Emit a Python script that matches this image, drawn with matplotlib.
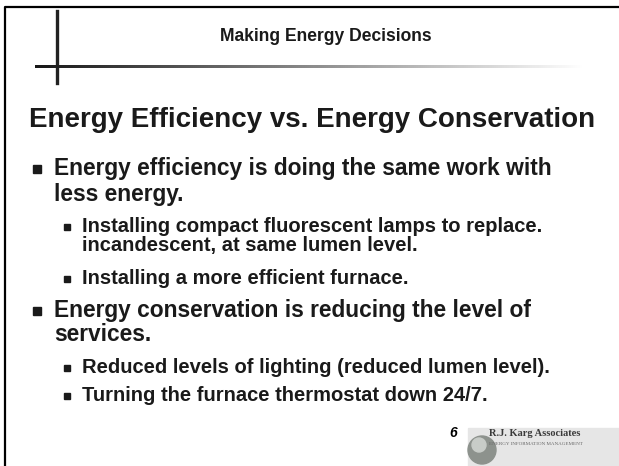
import matplotlib.pyplot as plt
import matplotlib.patches as mpatches
import numpy as np

header = "Making Energy Decisions"
title = "Energy Efficiency vs. Energy Conservation"

# (level, text lines)
bullets = [
    (1, ["Energy efficiency is doing the same work with", "less energy."]),
    (2, ["Installing compact fluorescent lamps to replace.", "incandescent, at same lumen level."]),
    (2, ["Installing a more efficient furnace."]),
    (1, ["Energy conservation is reducing the level of", "services."]),
    (2, ["Reduced levels of lighting (reduced lumen level)."]),
    (2, ["Turning the furnace thermostat down 24/7."]),
]
page_num = "6"
logo_name = "R.J. Karg Associates"
logo_sub = "Energy Information Management"

font = "Liberation Sans"

# layout: baselines of each text line
bullet_base = [[175, 201], [232, 251], [284], [317, 341], [373], [401]]

fig = plt.figure(figsize=(6.19, 4.66), dpi=100)
ax = fig.add_axes([0, 0, 1, 1])
ax.set_xlim(0, 619)
ax.set_ylim(466, 0)
ax.axis("off")
renderer = fig.canvas.get_renderer()


def fit_size(s, width, **kw):
    t = ax.text(0, 0, s, fontsize=10, **kw)
    w = t.get_window_extent(renderer).width
    t.remove()
    return 10 * width / w


# slide frame (left and top edges)
ax.plot([5, 5, 619], [466, 7, 7], color="black", lw=1.6)

# header cross lines
ax.plot([57, 57], [11, 83], color="#222222", lw=2.4)
grad = np.linspace(0, 1, 256).reshape(1, -1)
ax.imshow(grad, cmap="gray", extent=[35, 585, 68.5, 65.5], aspect="auto",
          vmin=-0.1, vmax=1.0, zorder=2)

kw = dict(fontweight="bold", family=font, color="#1a1a1a")
hs = fit_size(header, 213, **kw)
ax.text(220, 41, header, ha="left", va="baseline", fontsize=hs, **kw)

ts = fit_size(title, 567, **kw)
ax.text(29, 127, title, ha="left", va="baseline", fontsize=ts, **kw)

s1 = fit_size(bullets[0][1][0], 500, **kw)
s2 = fit_size(bullets[1][1][0], 462, **kw)

for (level, lines), bases in zip(bullets, bullet_base):
    if level == 1:
        bx, tx, size, bs, off = 37, 54, s1, 8.5, 6
    else:
        bx, tx, size, bs, off = 67, 82, s2, 6, 5
    y = bases[0] - off
    ax.add_patch(mpatches.Rectangle((bx - bs / 2, y - bs / 2), bs, bs,
                                    color="#1a1a1a"))
    for ln, b in zip(lines, bases):
        ax.text(tx, b, ln, ha="left", va="baseline", fontsize=size, **kw)

ax.text(453, 437, page_num, ha="center", va="baseline", fontsize=10,
        fontweight="bold", fontstyle="italic", family=font, color="black")

# logo
ax.add_patch(mpatches.Rectangle((468, 428), 151, 40, color="#e6e6e6", zorder=1))
ax.add_patch(mpatches.Circle((482, 450), 14, color="#8d928d", zorder=2))
ax.add_patch(mpatches.Circle((479, 445), 7, color="#c8ccc8", zorder=2))
ax.text(489, 436, logo_name, ha="left", va="baseline", fontsize=7.5,
        family="Liberation Serif", fontweight="bold", color="#3a3a3a", zorder=3)
ax.text(489, 445, logo_sub.upper(), ha="left", va="baseline", fontsize=3.6,
        family="Liberation Serif", color="#666666", zorder=3)

fig.savefig("out.png", dpi=100)
